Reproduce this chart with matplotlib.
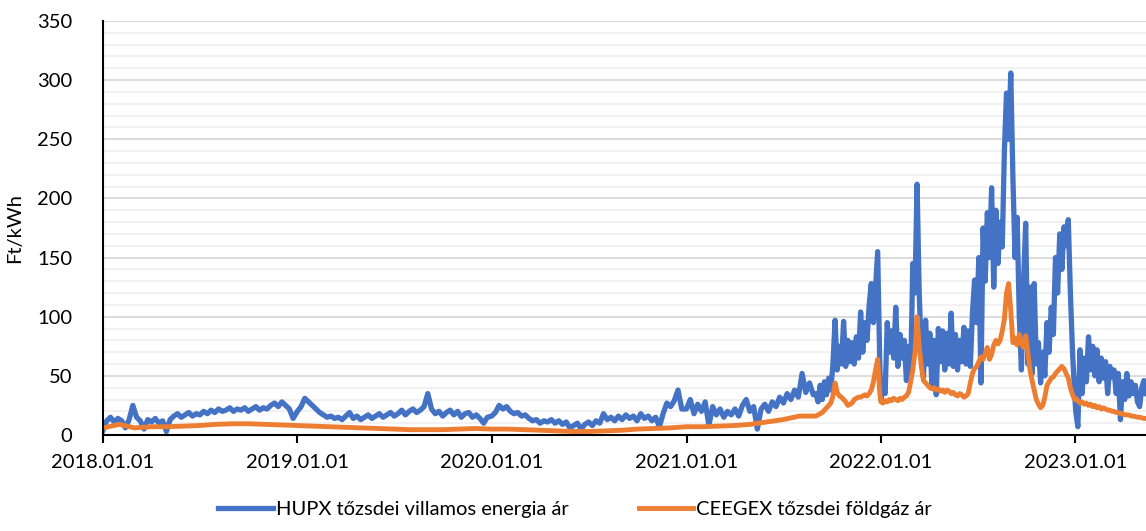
import numpy as np
import pandas as pd
import matplotlib.pyplot as plt
import matplotlib.dates as mdates
from matplotlib.ticker import MultipleLocator

plt.rcParams['font.family'] = ['Lato', 'DejaVu Sans']

# HUPX (Ft/kWh) - heti ertekek 2018.01.01 - 2021.08.27
hupx_2018 = [4, 12, 15, 11, 14, 12, 6, 13, 25, 15, 12, 5, 13, 11, 14, 10, 12, 3, 13, 16,
             18, 15, 17, 19, 16, 18, 17, 20, 18, 21, 19, 22, 20, 21, 23, 20, 22, 21, 23, 20,
             22, 24, 21, 23, 22, 25, 27, 24, 28, 25, 22, 14]
hupx_2019 = [20, 24, 31, 28, 25, 22, 19, 17, 15, 16, 14, 15, 13, 16, 19, 14, 16, 13, 15, 17,
             14, 16, 18, 15, 17, 19, 16, 18, 21, 17, 20, 22, 19, 21, 24, 35, 22, 18, 20, 16,
             19, 21, 17, 20, 15, 18, 19, 15, 17, 14, 10, 15]
hupx_2020 = [16, 19, 25, 22, 24, 20, 18, 19, 16, 17, 14, 12, 13, 10, 12, 11, 13, 10, 12, 9,
             11, 6, 8, 10, 5, 9, 11, 8, 12, 10, 18, 13, 15, 12, 16, 13, 17, 14, 16, 12,
             18, 14, 16, 12, 15, 7, 18, 27, 24, 29, 38, 22]
hupx_2021a = [22, 30, 18, 26, 20, 28, 8, 24, 17, 22, 15, 20, 17, 22, 16, 25, 30, 20, 24, 5,
              22, 26, 20, 28, 24, 32, 27, 35, 30, 38, 32, 52, 36, 44, 34]
# 4 naponkenti ertekek 2021.09.01-tol
hupx_2021b = [35, 28, 42, 30, 45, 34, 48, 38, 60, 97, 55, 75, 60, 96, 58, 80, 62, 78, 60, 83,
              65, 104, 70, 95, 80, 110, 128, 95, 125, 155, 60]
hupx_2022 = [30, 45, 35, 95, 70, 88, 65, 108, 58, 85, 65, 80, 46, 75, 52, 145, 120, 212, 120, 69,
             49, 97, 60, 86, 40, 80, 34, 90, 62, 88, 55, 86, 60, 103, 58, 85, 55, 80, 62, 91,
             60, 88, 58, 103, 131, 95, 150, 44, 175, 130, 188, 150, 209, 125, 190, 145, 180, 159, 240, 289,
             250, 306, 218, 150, 184, 100, 55, 130, 179, 60, 125, 52, 128, 60, 78, 44, 70, 50, 95, 70,
             108, 85, 150, 120, 170, 140, 176, 160, 182, 120, 70, 35]
hupx_2023 = [20, 7, 72, 35, 65, 45, 83, 55, 75, 50, 72, 45, 65, 48, 62, 35, 58, 49, 55, 35,
             52, 13, 45, 30, 52, 33, 45, 35, 42, 28, 24, 40, 46, 35]

# CEEGEX (Ft/kWh) - havi ertekek 2018.01 - 2021.08
ceegex_havi = [6, 9, 6, 7, 7, 7.5, 8, 9, 9.5, 9.5, 9, 8.5,
               8, 7.5, 7, 6.5, 6, 5.5, 5, 4.5, 4.5, 4.5, 5, 5.5,
               5, 5, 4.5, 4, 3.5, 3, 3, 3.5, 4, 5, 5.5, 6,
               7, 7, 7.5, 8, 9, 11, 13, 16]
# 4 naponkenti ertekek 2021.09.01-tol
ceegex_2021b = [16, 17, 18, 19, 21, 23, 25, 27, 33, 44, 36, 33, 32, 30, 28, 25, 26, 27, 30, 31,
                32, 32, 33, 34, 33, 35, 38, 45, 55, 64, 35]
ceegex_2022 = [28, 27, 29, 28, 30, 29, 31, 30, 29, 31, 30, 32, 33, 36, 45, 55, 70, 100, 75, 58,
               46, 44, 42, 40, 39, 40, 38, 39, 37, 38, 36, 38, 37, 35, 36, 34, 33, 35, 34, 32,
               33, 35, 44, 52, 56, 58, 62, 66, 64, 69, 74, 64, 68, 76, 80, 77, 80, 88, 98, 120,
               128, 105, 78, 82, 76, 85, 78, 74, 84, 70, 55, 46, 38, 30, 26, 23, 25, 32, 42, 45,
               48, 49, 52, 54, 56, 58, 56, 52, 48, 40, 34, 30]
ceegex_2023 = [31, 29, 27, 28, 26, 27, 25, 26, 24, 25, 23, 24, 22, 23, 22, 21, 21, 20, 20, 19,
               19, 18, 18, 17, 17, 17, 16, 16, 15.5, 15, 15, 14.5, 14, 14]

# datumok
def heti(ev, vals):
    return pd.date_range(f'{ev}-01-01', periods=len(vals), freq='7D')

d_hupx = np.concatenate([heti(2018, hupx_2018), heti(2019, hupx_2019), heti(2020, hupx_2020),
                         heti(2021, hupx_2021a),
                         pd.date_range('2021-09-01', periods=len(hupx_2021b), freq='4D'),
                         pd.date_range('2022-01-01', periods=len(hupx_2022), freq='4D'),
                         pd.date_range('2023-01-02', periods=len(hupx_2023), freq='4D')])
v_hupx = np.array(hupx_2018 + hupx_2019 + hupx_2020 + hupx_2021a + hupx_2021b + hupx_2022 + hupx_2023)

d_ceegex = np.concatenate([pd.date_range('2018-01-01', periods=len(ceegex_havi), freq='MS'),
                           pd.date_range('2021-09-01', periods=len(ceegex_2021b), freq='4D'),
                           pd.date_range('2022-01-01', periods=len(ceegex_2022), freq='4D'),
                           pd.date_range('2023-01-02', periods=len(ceegex_2023), freq='4D')])
v_ceegex = np.array(ceegex_havi + ceegex_2021b + ceegex_2022 + ceegex_2023)

fig = plt.figure(figsize=(11.46, 5.31), dpi=100)
ax = fig.add_axes([0.0899, 0.1808, 0.9101, 0.7797])

ax.plot(d_hupx, v_hupx, color='#4472C4', linewidth=3.8, solid_joinstyle='round',
        label='HUPX tőzsdei villamos energia ár')
ax.plot(d_ceegex, v_ceegex, color='#ED7D31', linewidth=3.5, solid_joinstyle='round',
        label='CEEGEX tőzsdei földgáz ár')

ax.set_ylim(0, 350)
ax.set_xlim(pd.Timestamp('2018-01-01'), pd.Timestamp('2023-05-14'))
ax.yaxis.set_major_locator(MultipleLocator(50))
ax.yaxis.set_minor_locator(MultipleLocator(10))
ax.grid(axis='y', which='major', color='#d9d9d9', linewidth=1.3)
ax.grid(axis='y', which='minor', color='#f0f0f0', linewidth=1.3)
ax.set_axisbelow(True)

ax.xaxis.set_major_locator(mdates.YearLocator())
ax.xaxis.set_major_formatter(mdates.DateFormatter('%Y.%m.%d'))

for s in ['top', 'right']:
    ax.spines[s].set_visible(False)
ax.spines['left'].set_linewidth(1.5)
ax.spines['bottom'].set_linewidth(1.5)
ax.tick_params(axis='y', which='both', length=0, labelsize=14.5, pad=22)
ax.tick_params(axis='x', length=6, width=1.5, labelsize=14.5, pad=8)

ax.set_ylabel('Ft/kWh', fontsize=14.5, labelpad=10)

fig.legend(loc='lower center', bbox_to_anchor=(0.502, -0.01), ncol=2, frameon=False,
           fontsize=14.5, handlelength=2.7, handletextpad=0.15, columnspacing=3.5)

fig.savefig('out.png', dpi=100)
